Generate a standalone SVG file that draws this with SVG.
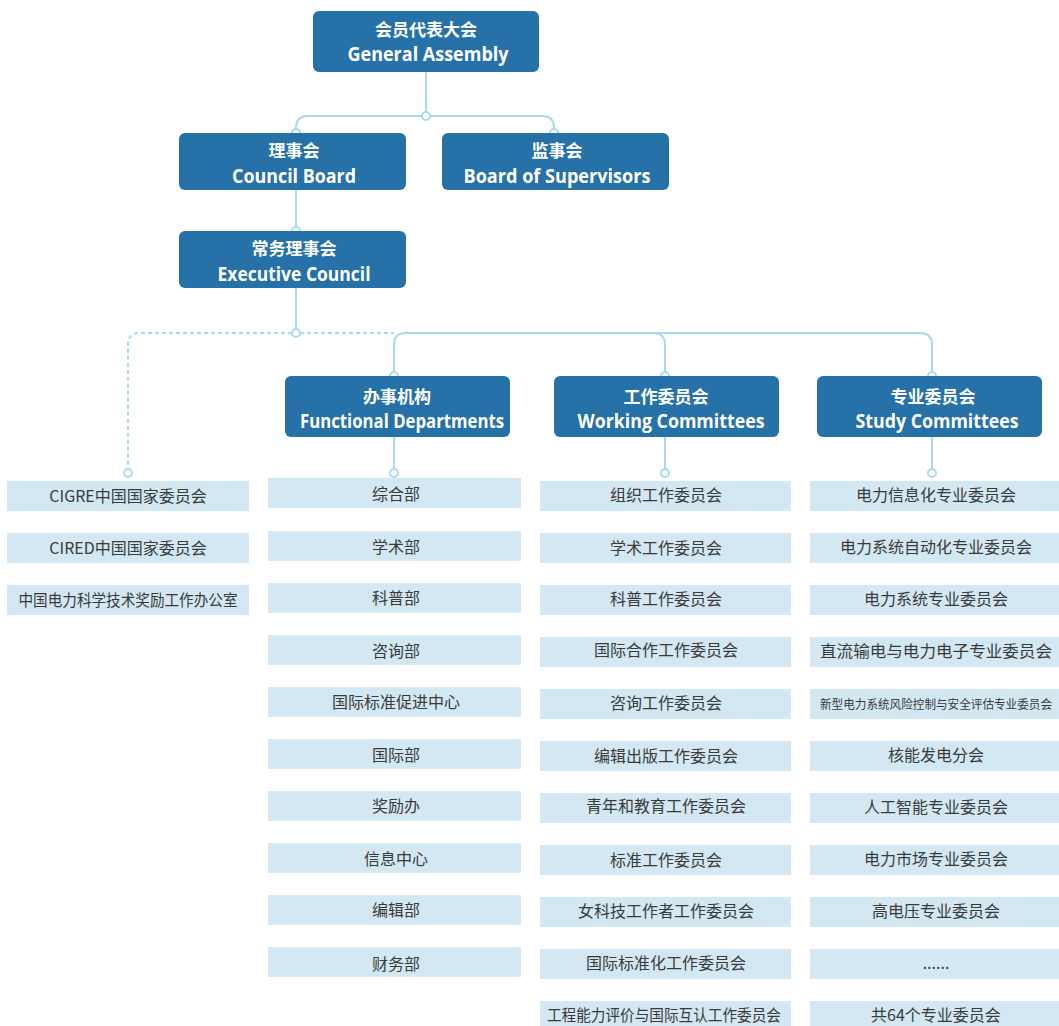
<svg xmlns="http://www.w3.org/2000/svg" width="1059" height="1026" viewBox="0 0 1059 1026">
<style>
.hb{fill:#2571a8}
.zh{font-family:"Noto Sans CJK SC",sans-serif;font-size:17px;font-weight:bold;fill:#fff;text-anchor:middle}
.en{font-family:"Open Sans","Noto Sans",sans-serif;font-size:20px;font-weight:bold;fill:#fff;text-anchor:middle}
.ib{fill:#d3e8f3}
.it{font-family:"Noto Sans CJK SC","Noto Sans",sans-serif;font-size:16px;fill:#3a3a3a;text-anchor:middle}
.ln{fill:none;stroke:#a9d9ef;stroke-width:2}
.dl{fill:none;stroke:#a9d9ef;stroke-width:2;stroke-dasharray:4 3}
.dot{fill:#fff;stroke:#a9d9ef;stroke-width:2}
</style>
<g id="connectors">
<path class="ln" d="M426,72 V112"/>
<path class="ln" d="M296,129 V128 Q296,116 308,116 H542 Q554,116 554,128 V129"/>
<path class="ln" d="M296,190 V227"/>
<path class="ln" d="M296,288 V329"/>
<path class="dl" d="M292,333 H140 Q128,333 128,345 V469"/>
<path class="dl" d="M300,333 H394"/>
<path class="ln" d="M394,372 V345 Q394,333 406,333 H920 Q932,333 932,345 V372"/>
<path class="ln" d="M653,333 Q665,333 665,345 V372"/>
<path class="ln" d="M394,437 V469"/>
<path class="ln" d="M665,437 V469"/>
<path class="ln" d="M932,437 V469"/>
<circle class="dot" cx="426" cy="116" r="4"/>
<circle class="dot" cx="296" cy="133" r="4"/>
<circle class="dot" cx="554" cy="133" r="4"/>
<circle class="dot" cx="296" cy="231" r="4"/>
<circle class="dot" cx="296" cy="333" r="4"/>
<circle class="dot" cx="394" cy="376" r="4"/>
<circle class="dot" cx="665" cy="376" r="4"/>
<circle class="dot" cx="932" cy="376" r="4"/>
<circle class="dot" cx="128" cy="473" r="4"/>
<circle class="dot" cx="394" cy="473" r="4"/>
<circle class="dot" cx="665" cy="473" r="4"/>
<circle class="dot" cx="932" cy="473" r="4"/>
</g>
<g id="general-assembly">
<rect class="hb" x="313" y="11" width="226" height="61" rx="6"/>
<text class="zh" x="426" y="36">会员代表大会</text>
<text class="en" x="428" y="60.5" textLength="161" lengthAdjust="spacingAndGlyphs">General Assembly</text>
</g>
<g id="council-board">
<rect class="hb" x="179" y="133" width="227" height="57" rx="6"/>
<text class="zh" x="294" y="157">理事会</text>
<text class="en" x="294" y="182.5" textLength="124" lengthAdjust="spacingAndGlyphs">Council Board</text>
</g>
<g id="board-of-supervisors">
<rect class="hb" x="442" y="133" width="227" height="57" rx="6"/>
<text class="zh" x="557" y="157">监事会</text>
<text class="en" x="557" y="182.5" textLength="187" lengthAdjust="spacingAndGlyphs">Board of Supervisors</text>
</g>
<g id="executive-council">
<rect class="hb" x="179" y="231" width="227" height="57" rx="6"/>
<text class="zh" x="294" y="255">常务理事会</text>
<text class="en" x="294" y="280.5" textLength="153" lengthAdjust="spacingAndGlyphs">Executive Council</text>
</g>
<g id="functional-departments">
<rect class="hb" x="285" y="376" width="225" height="61" rx="6"/>
<text class="zh" x="397" y="403">办事机构</text>
<text class="en" x="402" y="427.5" textLength="204" lengthAdjust="spacingAndGlyphs">Functional Departments</text>
</g>
<g id="working-committees">
<rect class="hb" x="554" y="376" width="225" height="61" rx="6"/>
<text class="zh" x="666" y="403">工作委员会</text>
<text class="en" x="671" y="427.5" textLength="187" lengthAdjust="spacingAndGlyphs">Working Committees</text>
</g>
<g id="study-committees">
<rect class="hb" x="817" y="376" width="225" height="61" rx="6"/>
<text class="zh" x="933" y="403">专业委员会</text>
<text class="en" x="937" y="427.5" textLength="163" lengthAdjust="spacingAndGlyphs">Study Committees</text>
</g>
<g id="other-bodies">
<rect class="ib" x="7" y="481" width="242" height="30"/><text class="it" x="128" y="502">CIGRE中国国家委员会</text>
<rect class="ib" x="7" y="533" width="242" height="30"/><text class="it" x="128" y="554">CIRED中国国家委员会</text>
<rect class="ib" x="7" y="585" width="242" height="30"/><text class="it" x="128" y="606" textLength="219" lengthAdjust="spacingAndGlyphs">中国电力科学技术奖励工作办公室</text>
</g>
<g id="departments-list">
<rect class="ib" x="268" y="478" width="253" height="30"/><text class="it" x="396" y="500">综合部</text>
<rect class="ib" x="268" y="531" width="253" height="30"/><text class="it" x="396" y="553">学术部</text>
<rect class="ib" x="268" y="583" width="253" height="30"/><text class="it" x="396" y="604">科普部</text>
<rect class="ib" x="268" y="635" width="253" height="30"/><text class="it" x="396" y="657">咨询部</text>
<rect class="ib" x="268" y="687" width="253" height="30"/><text class="it" x="396" y="708">国际标准促进中心</text>
<rect class="ib" x="268" y="739" width="253" height="30"/><text class="it" x="396" y="761">国际部</text>
<rect class="ib" x="268" y="791" width="253" height="30"/><text class="it" x="396" y="812">奖励办</text>
<rect class="ib" x="268" y="843" width="253" height="30"/><text class="it" x="396" y="865">信息中心</text>
<rect class="ib" x="268" y="895" width="253" height="30"/><text class="it" x="396" y="916">编辑部</text>
<rect class="ib" x="268" y="947" width="253" height="30"/><text class="it" x="396" y="970">财务部</text>
</g>
<g id="working-list">
<rect class="ib" x="540" y="481" width="251" height="30"/><text class="it" x="666" y="501">组织工作委员会</text>
<rect class="ib" x="540" y="533" width="251" height="30"/><text class="it" x="666" y="554">学术工作委员会</text>
<rect class="ib" x="540" y="585" width="251" height="30"/><text class="it" x="666" y="605">科普工作委员会</text>
<rect class="ib" x="540" y="637" width="251" height="30"/><text class="it" x="666" y="656">国际合作工作委员会</text>
<rect class="ib" x="540" y="689" width="251" height="30"/><text class="it" x="666" y="709">咨询工作委员会</text>
<rect class="ib" x="540" y="741" width="251" height="30"/><text class="it" x="666" y="762">编辑出版工作委员会</text>
<rect class="ib" x="540" y="793" width="251" height="30"/><text class="it" x="666" y="812">青年和教育工作委员会</text>
<rect class="ib" x="540" y="845" width="251" height="30"/><text class="it" x="666" y="866">标准工作委员会</text>
<rect class="ib" x="540" y="897" width="251" height="30"/><text class="it" x="666" y="917">女科技工作者工作委员会</text>
<rect class="ib" x="540" y="949" width="251" height="30"/><text class="it" x="666" y="969">国际标准化工作委员会</text>
<rect class="ib" x="540" y="1001" width="251" height="30"/><text class="it" x="664" y="1021" textLength="234" lengthAdjust="spacingAndGlyphs">工程能力评价与国际互认工作委员会</text>
</g>
<g id="study-list">
<rect class="ib" x="810" y="481" width="249" height="30"/><text class="it" x="936" y="501">电力信息化专业委员会</text>
<rect class="ib" x="810" y="533" width="249" height="30"/><text class="it" x="936" y="553">电力系统自动化专业委员会</text>
<rect class="ib" x="810" y="585" width="249" height="30"/><text class="it" x="936" y="605">电力系统专业委员会</text>
<rect class="ib" x="810" y="637" width="249" height="30"/><text class="it" x="936" y="657" textLength="232" lengthAdjust="spacingAndGlyphs">直流输电与电力电子专业委员会</text>
<rect class="ib" x="810" y="689" width="249" height="30"/><text class="it" x="936" y="708.5" style="font-size:12px" textLength="232" lengthAdjust="spacingAndGlyphs">新型电力系统风险控制与安全评估专业委员会</text>
<rect class="ib" x="810" y="741" width="249" height="30"/><text class="it" x="936" y="761">核能发电分会</text>
<rect class="ib" x="810" y="793" width="249" height="30"/><text class="it" x="936" y="813">人工智能专业委员会</text>
<rect class="ib" x="810" y="845" width="249" height="30"/><text class="it" x="936" y="865">电力市场专业委员会</text>
<rect class="ib" x="810" y="897" width="249" height="30"/><text class="it" x="936" y="917">高电压专业委员会</text>
<rect class="ib" x="810" y="949" width="249" height="30"/><text class="it" x="936" y="969">......</text>
<rect class="ib" x="810" y="1001" width="249" height="30"/><text class="it" x="936" y="1021">共64个专业委员会</text>
</g>
</svg>
